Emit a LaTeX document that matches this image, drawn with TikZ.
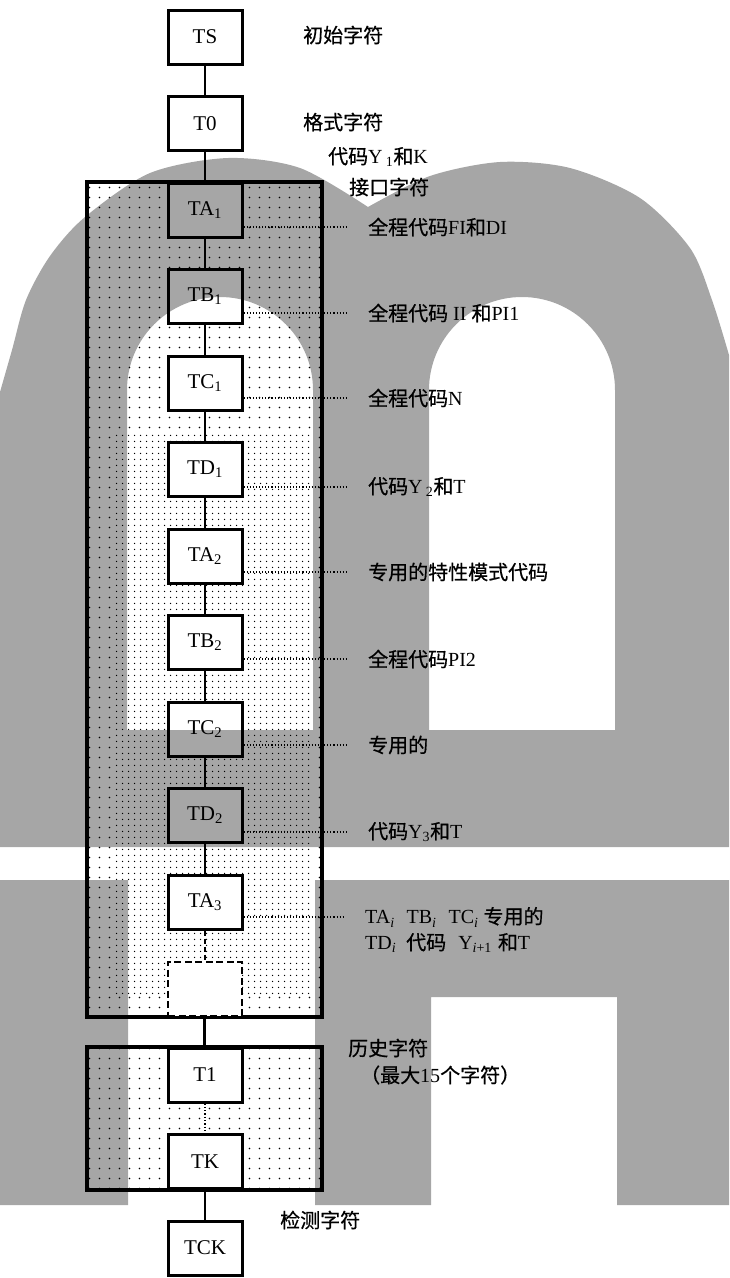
\documentclass[tikz,border=0pt]{standalone}
\usepackage{fontspec}
\setmainfont{Liberation Serif}
\newfontfamily\cjk{Noto Sans CJK SC}[FakeBold=0.6]
\usetikzlibrary{patterns.meta}
\newcommand\zh[1]{{\cjk #1}}
\newcommand\sub[1]{\textsubscript{#1}}

\tikzdeclarepattern{
  name=sdots, type=uncolored,
  bottom left={(0pt,0pt)}, top right={(9.5pt,9.5pt)},
  tile size={(9.5pt,9.5pt)},
  code={\fill (4.75pt,4.75pt) circle[radius=0.9pt];}
}
\tikzdeclarepattern{
  name=ddots, type=uncolored,
  bottom left={(0pt,0pt)}, top right={(6pt,6pt)},
  tile size={(6pt,6pt)},
  code={\fill (3pt,3pt) circle[radius=0.8pt];}
}

\begin{document}
\begin{tikzpicture}[x=1pt,y=-1pt,
  box/.style={draw, line width=3pt, fill=white, minimum width=74pt, minimum height=54pt, inner sep=0pt, font=\fontsize{21}{24}\selectfont},
  frame/.style={draw, line width=3.5pt, pattern=sdots, inner sep=0pt},
  link/.style={line width=1.3pt},
  leader/.style={line width=1.1pt, dotted},
  lab/.style={anchor=west, inner sep=0pt, font=\fontsize{20}{23}\selectfont},
  wm/.style={fill=black, fill opacity=0.35}
]
\useasboundingbox (0,0) rectangle (729,1278);

% frames with sparse dots
\node[frame, minimum width=235pt, minimum height=835pt] (f1) at (204.5,599.5) {};
\node[frame, minimum width=235pt, minimum height=143pt] (f2) at (204.5,1118.5) {};
% dense dotted region
\fill[white] (113,433) rectangle (312,995);
\fill[pattern=ddots] (113,433) rectangle (312,995);

% boxes
\node[box] (ts)  at (205,37)    {TS};
\node[box] (t0)  at (205,123.5) {T0};
\node[box] (ta1) at (205,210)   {TA\sub{1}};
\node[box] (tb1) at (205,296.5) {TB\sub{1}};
\node[box] (tc1) at (205,383)   {TC\sub{1}};
\node[box] (td1) at (205,469.5) {TD\sub{1}};
\node[box] (ta2) at (205,556)   {TA\sub{2}};
\node[box] (tb2) at (205,642.5) {TB\sub{2}};
\node[box] (tc2) at (205,729)   {TC\sub{2}};
\node[box] (td2) at (205,815.5) {TD\sub{2}};
\node[box] (ta3) at (205,902)   {TA\sub{3}};
\node[box, line width=2pt, dash pattern=on 7pt off 3.5pt] (tx) at (205,988.5) {};
\node[box] (t1)  at (205,1075)  {T1};
\node[box] (tk)  at (205,1161.5) {TK};
\node[box] (tck) at (205,1248)  {TCK};

% connectors
\draw[link] (ts) -- (t0);
\draw[link] (t0) -- (ta1);
\draw[link] (ta1) -- (tb1);
\draw[link] (tb1) -- (tc1);
\draw[link] (tc1) -- (td1);
\draw[link] (td1) -- (ta2);
\draw[link] (ta2) -- (tb2);
\draw[link] (tb2) -- (tc2);
\draw[link] (tc2) -- (td2);
\draw[link] (td2) -- (ta3);
\draw[link, dash pattern=on 5pt off 3pt] (ta3) -- (tx);
\draw[line width=3.2pt] (f1.south) -- (f2.north);
\draw[link, dotted] (t1) -- (tk);
\draw[link] (tk) -- (tck);

% labels without leaders
\node[lab] (lts) at (303,35)  {\zh{初始字符}};
\node[lab] (lt0) at (303,122) {\zh{格式字符}};
\node[lab] (ly1) at (328,157) {\zh{代码}Y\,\sub{1}\zh{和}K};
\node[lab] (lif) at (349,187) {\zh{接口字符}};

% labels with leaders
\node[lab] (l1) at (368,227) {\zh{全程代码}FI\zh{和}DI};
\node[lab] (l2) at (368,313) {\zh{全程代码} II \zh{和}PI1};
\node[lab] (l3) at (368,398) {\zh{全程代码}N};
\node[lab] (l4) at (368,487) {\zh{代码}Y\,\sub{2}\zh{和}T};
\node[lab] (l5) at (368,572) {\zh{专用的特性模式代码}};
\node[lab] (l6) at (368,659) {\zh{全程代码}PI2};
\node[lab] (l7) at (368,745) {\zh{专用的}};
\node[lab] (l8) at (368,832) {\zh{代码}Y\sub{3}\zh{和}T};
\node[lab] (l9) at (365,917) {TA\sub{\itshape i}\hspace{12pt}TB\sub{\itshape i}\hspace{12pt}TC\sub{\itshape i}\hspace{5pt}\zh{专用的}};
\node[lab] (l9b) at (365,943) {TD\sub{\itshape i}\hspace{10pt}\zh{代码}\hspace{12pt}Y\sub{\itshape i\/\upshape+1}\hspace{6pt}\zh{和}T};

\foreach \b/\l in {ta1/l1, tb1/l2, tc1/l3, td1/l4, ta2/l5, tb2/l6, tc2/l7, td2/l8, ta3/l9}
  \draw[leader] (\b.east |- \l.west) -- ([xshift=-22pt]\l.west);

\node[lab] (lh1) at (348,1048) {\zh{历史字符}};
\node[lab] (lh2) at (360,1075) {\zh{（最大}15\zh{个字符）}};
\node[lab] (lck) at (280,1220) {\zh{检测字符}};

% background watermark shapes
\fill[wm, even odd rule]
  (0,847) -- plot[smooth] coordinates {(0,392) (12,350) (26,300) (50,256) (85,217) (150,173) (228,158) (300,168) (368,207)}
  -- plot[smooth] coordinates {(368,207) (430,176) (500,162) (570,168) (640,198) (690,248) (712,300) (729,355)}
  -- (729,847) -- cycle
  (127,730) -- (127,390) arc[start angle=180, end angle=360, radius=93] -- (313,730) -- cycle
  (429,730) -- (429,390) arc[start angle=180, end angle=360, radius=93] -- (615,730) -- cycle;
\fill[wm]
  (0,880) -- (128,880) -- (128,1205) -- (0,1205) -- cycle
  (315,880) -- (729,880) -- (729,1205) -- (617,1205) -- (617,997) -- (431,997) -- (431,1205) -- (315,1205) -- cycle;
\end{tikzpicture}
\end{document}
